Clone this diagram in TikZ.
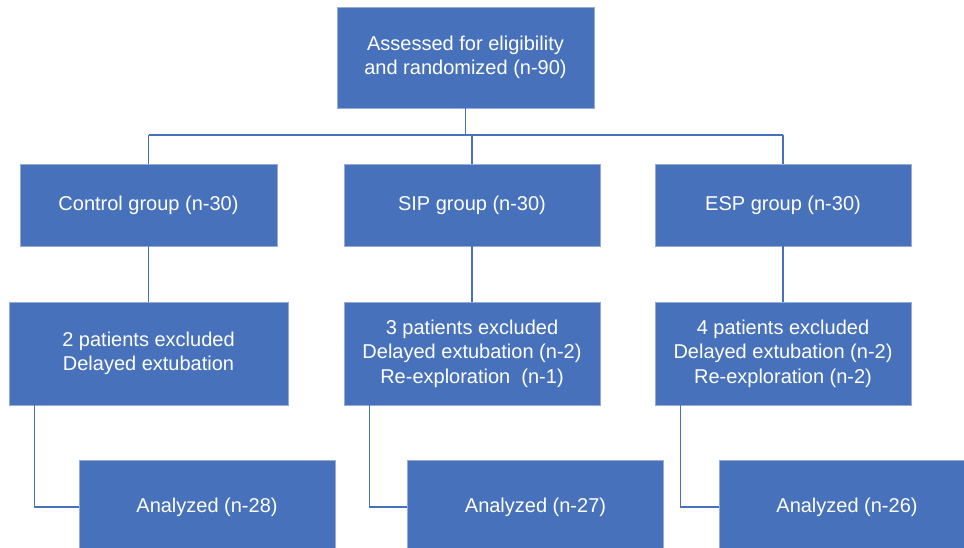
\documentclass[tikz,border=0pt]{standalone}
\usepackage{fontspec}
\setmainfont{Liberation Sans}
\usetikzlibrary{calc}
\definecolor{boxblue}{RGB}{71,114,187}
\definecolor{edgeblue}{RGB}{150,172,214}

\begin{document}
\begin{tikzpicture}[
  x=1pt, y=1pt,
  stage/.style={draw=edgeblue, line width=0.5pt, fill=boxblue, text=white,
    font=\fontsize{20}{24.5}\selectfont, align=center, inner sep=0pt,
    minimum width=256},
  link/.style={draw=boxblue, line width=1.1pt}
]
\useasboundingbox (0,0) rectangle (964,548);

% Enrolment
\node[stage, minimum width=257, minimum height=101] (assess) at (465.5,490.5)
  {Assessed for eligibility\\and randomized (n-90)};

% Allocation
\node[stage, minimum width=257, minimum height=82] (ctrl) at (148.5,343) {Control group (n-30)};
\node[stage, minimum height=82] (sip) at (472,343) {SIP group (n-30)};
\node[stage, minimum height=82] (esp) at (783,343) {ESP group (n-30)};

% Exclusions
\node[stage, minimum width=279, minimum height=103] (ctrlex) at (148.5,194.5)
  {2 patients excluded\\Delayed extubation};
\node[stage, minimum height=103] (sipex) at (472,194.5)
  {3 patients excluded\\Delayed extubation (n-2)\\Re-exploration~~(n-1)};
\node[stage, minimum height=103] (espex) at (783,194.5)
  {4 patients excluded\\Delayed extubation (n-2)\\Re-exploration (n-2)};

% Analysis
\node[stage, minimum height=94] (ctrlan) at (207,41) {Analyzed (n-28)};
\node[stage, minimum height=94] (sipan) at (535.5,41) {Analyzed (n-27)};
\node[stage, minimum height=94] (espan) at (847,41) {Analyzed (n-26)};

% Connectors
\coordinate (split) at (0,413);
\draw[link] (assess.south) -- (assess.south |- split);
\draw[link] (ctrl.north |- split) -- (esp.north |- split);
\foreach \g in {ctrl, sip, esp} {
  \draw[link] (\g.north) -- (\g.north |- split);
}
\foreach \g/\e in {ctrl/ctrlex, sip/sipex, esp/espex} {
  \draw[link] (\g.south) -- (\e.north);
}
\foreach \e/\a in {ctrlex/ctrlan, sipex/sipan, espex/espan} {
  \draw[link] ($(\e.south west)+(26,0)$) |- (\a.west);
}

\end{tikzpicture}
\end{document}
